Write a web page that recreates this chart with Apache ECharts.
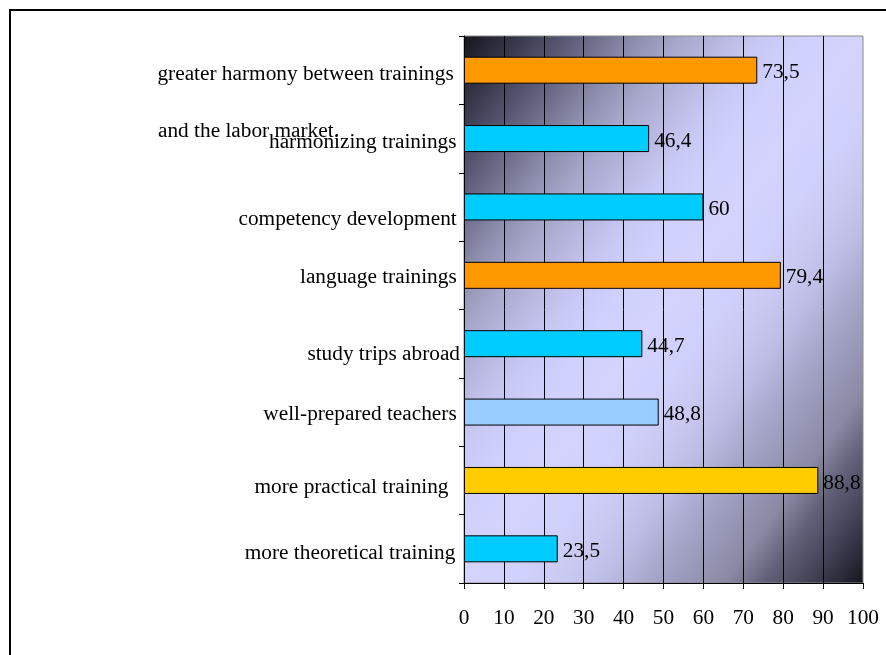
<!DOCTYPE html>
<html>
<head>
<meta charset="utf-8">
<script src="https://cdn.jsdelivr.net/npm/echarts@6/dist/echarts.min.js"></script>
<style>
html,body{margin:0;padding:0;background:#fff;}
#chart{width:886px;height:655px;}
</style>
</head>
<body>
<div id="chart"></div>
<script>
// ---- data ----
const categories = [
  'greater harmony between trainings',
  'harmonizing trainings',
  'competency development',
  'language trainings',
  'study trips abroad',
  'well-prepared teachers',
  'more practical training',
  'more theoretical training'
];
const values = [73.5, 46.4, 60, 79.4, 44.7, 48.8, 88.8, 23.5];
const secondLineText = 'and the labor market.';
const xTicks = [0, 10, 20, 30, 40, 50, 60, 70, 80, 90, 100];

// ---- styles ----
const barColors = ['#ff9900', '#00ccff', '#00ccff', '#ff9900', '#00ccff', '#99ccff', '#ffcc00', '#00ccff'];
const labelShiftY = [4.2, 4.2, 12.1, 2.5, 10.7, 2.5, 7.3, 5];
const labelPadRight = [3.3, 0.5, 0.3, 0.3, -3, 0.3, 8.5, 1.7];
const FONT = '"Liberation Serif", "Times New Roman", serif';
const FS = 21.3;

const gW = 399, gH = 547;
const L2 = gW * gW + gH * gH;
const bg = {
  type: 'linear',
  x: 0, y: 0,
  x2: 2 * gH * gH / L2,
  y2: 2 * gW * gW / L2,
  colorStops: [
    {offset: 0, color: '#15151e'},
    {offset: 0.075, color: '#3a3a4e'},
    {offset: 0.125, color: '#555570'},
    {offset: 0.175, color: '#737390'},
    {offset: 0.225, color: '#9090b0'},
    {offset: 0.275, color: '#a8a8cc'},
    {offset: 0.325, color: '#b8b8e0'},
    {offset: 0.375, color: '#c8c8f4'},
    {offset: 0.43, color: '#d0d0fc'},
    {offset: 0.5, color: '#d3d3fe'},
    {offset: 0.57, color: '#d0d0fc'},
    {offset: 0.625, color: '#c8c8f0'},
    {offset: 0.675, color: '#bcbce4'},
    {offset: 0.725, color: '#a8a8cc'},
    {offset: 0.775, color: '#9898b8'},
    {offset: 0.825, color: '#8a8aa4'},
    {offset: 0.875, color: '#606078'},
    {offset: 0.925, color: '#45455a'},
    {offset: 1, color: '#15151e'}
  ]
};

const catItems = categories.map((c, i) => ({
  value: c,
  textStyle: {
    verticalAlign: 'top',
    lineHeight: 2 * labelShiftY[i],
    padding: [0, Math.max(0, labelPadRight[i] + 3), 0, 0]
  }
}));

const chart = echarts.init(document.getElementById('chart'), null, {renderer: 'canvas'});
chart.setOption({
  animation: false,
  backgroundColor: '#ffffff',
  textStyle: {fontFamily: FONT},
  grid: {
    left: 464, top: 36, width: gW, height: gH,
    show: true,
    backgroundColor: bg,
    borderColor: '#8a8a8a',
    borderWidth: 1
  },
  xAxis: {
    type: 'value',
    min: xTicks[0],
    max: xTicks[xTicks.length - 1],
    interval: xTicks[1] - xTicks[0],
    axisLine: {show: true, lineStyle: {color: '#000', width: 1}},
    axisTick: {show: true, length: 6, lineStyle: {color: '#000'}},
    axisLabel: {color: '#000', fontFamily: FONT, fontSize: FS, margin: 25},
    splitLine: {show: true, showMinLine: false, showMaxLine: false, lineStyle: {color: '#000', width: 1}}
  },
  yAxis: {
    type: 'category',
    inverse: true,
    data: catItems,
    axisLine: {show: true, lineStyle: {color: '#000', width: 1}},
    axisTick: {show: true, length: 5, alignWithLabel: false, lineStyle: {color: '#000'}},
    axisLabel: {color: '#000', fontFamily: FONT, fontSize: FS, margin: 4, interval: 0},
    splitLine: {show: false}
  },
  series: [{
    type: 'bar',
    data: values.map((v, i) => ({value: v, itemStyle: {color: barColors[i]}})),
    barWidth: 27,
    itemStyle: {borderColor: '#000', borderWidth: 1},
    label: {
      show: true,
      position: 'right',
      distance: 5,
      offset: [0, 2.5],
      color: '#000',
      fontFamily: FONT,
      fontSize: FS,
      formatter: p => String(p.value).replace('.', ',')
    }
  }],
  graphic: [
    {
      type: 'polyline',
      shape: {points: [[10, 655], [10, 10], [886, 10]]},
      style: {stroke: '#000', lineWidth: 2, fill: null}
    },
    {
      type: 'text',
      x: 158, y: 131,
      style: {
        text: secondLineText,
        font: FS + 'px ' + FONT,
        fill: '#000',
        verticalAlign: 'middle',
        align: 'left'
      }
    }
  ]
});
</script>
</body>
</html>
